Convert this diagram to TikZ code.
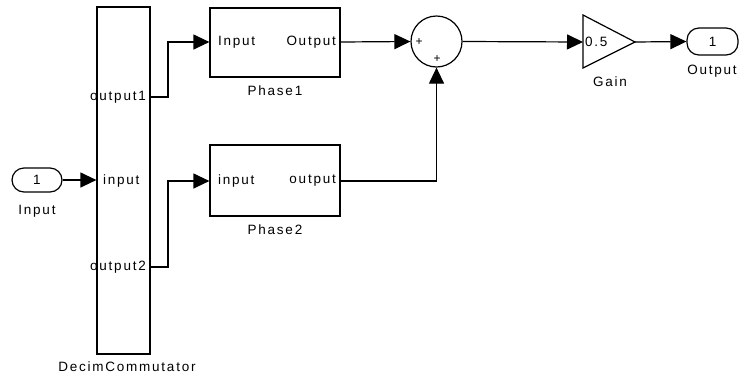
\documentclass[tikz,border=0pt]{standalone}
\usepackage{fontspec}
\setmainfont{Liberation Sans}[LetterSpace=13]
\usetikzlibrary{arrows.meta}
\begin{document}
\begin{tikzpicture}[x=1pt,y=-1pt,
  font=\fontsize{13.5}{15}\selectfont,
  blk/.style={draw,line width=1.2pt,inner sep=0pt},
  port/.style={blk,rounded corners=12pt},
  lbl/.style={inner sep=0pt},
  wire/.style={line width=1.2pt},
  arr/.style={wire,-{Triangle[length=16pt,width=15pt]}}]
\useasboundingbox (0,0) rectangle (743,381);
% blocks
\node[port,minimum width=50pt,minimum height=24pt] (inport) at (37,180) {1};
\node[lbl] (inlbl) at (37,211) {Input};
\node[blk,minimum width=53pt,minimum height=347pt] (dc) at (123.5,180.5) {};
\node[lbl] (dclbl) at (127,367) {DecimCommutator};
\node[lbl,anchor=west] (dcin) at (103,181) {input};
\node[lbl,anchor=east] (dco1) at (146,97) {output1};
\node[lbl,anchor=east] (dco2) at (146,267) {output2};
\node[blk,minimum width=130pt,minimum height=69pt] (ph1) at (275,42.5) {};
\node[lbl,anchor=west] (ph1in) at (218,42) {Input};
\node[lbl,anchor=east] (ph1out) at (336,42) {Output};
\node[lbl] (ph1lbl) at (275,91) {Phase1};
\node[blk,minimum width=130pt,minimum height=71pt] (ph2) at (275,180.5) {};
\node[lbl,anchor=west] (ph2in) at (218,181) {input};
\node[lbl,anchor=east] (ph2out) at (336,181) {output};
\node[lbl] (ph2lbl) at (275,230) {Phase2};
\node[blk,circle,minimum size=51pt] (sum) at (436.5,41.5) {};
\node[lbl,font=\fontsize{12}{12}\selectfont] (p1) at (419,42) {+};
\node[lbl,font=\fontsize{12}{12}\selectfont] (p2) at (437,59) {+};
\draw[line width=1.2pt] (583,15) -- (635,42) -- (583,68) -- cycle;
\coordinate (gin) at (583,42);
\coordinate (gout) at (635,42);
\node[lbl,anchor=west] (gval) at (585,42) {0.5};
\node[lbl] (glbl) at (610,82) {Gain};
\node[port,minimum width=51pt,minimum height=27pt] (outport) at (712.5,41.5) {1};
\node[lbl] (outlbl) at (712,71) {Output};
% coordinates on DecimCommutator edge
\coordinate (o1) at (dc.east |- 0,97);
\coordinate (o2) at (dc.east |- 0,267);
\coordinate (dcinpt) at (dc.west |- inport.east);
% wires
\draw[arr] (inport.east) -- (dcinpt);
\draw[arr] (o1) -- (168,97) -- (168,42) -- (ph1.west |- 0,42);
\draw[arr] (o2) -- (168,267) -- (168,181) -- (ph2.west |- 0,181);
\draw[arr] (ph1.east |- 0,42) -- (sum.west);
\draw[arr] (ph2.east |- 0,181) -- (sum.south |- 0,181) -- (sum.south);
\draw[arr] (sum.east) -- (gin);
\draw[arr] (gout) -- (outport.west);
\end{tikzpicture}
\end{document}
